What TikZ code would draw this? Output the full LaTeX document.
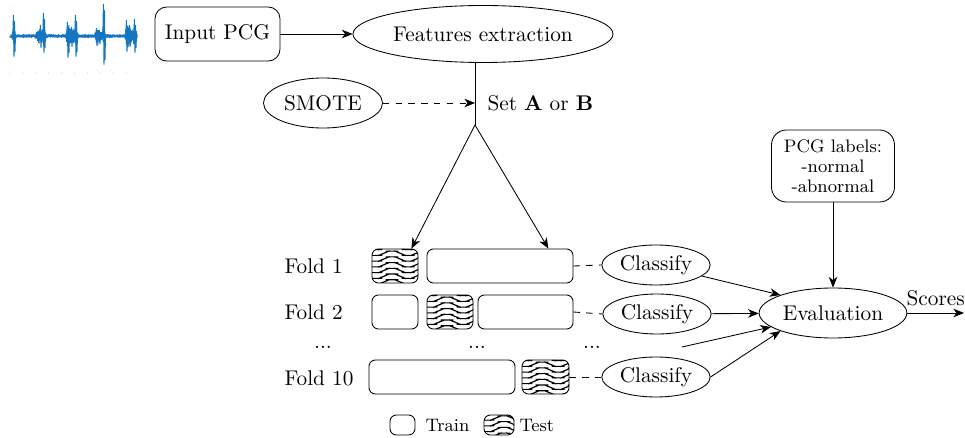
\documentclass[tikz,border=0pt]{standalone}
\usetikzlibrary{arrows.meta,shapes.geometric,fit,calc}
\definecolor{wavecol}{RGB}{20,118,192}
\def\pxu{0.47pt}
\begin{document}
\begin{tikzpicture}[x=0.47pt,y=-0.47pt,
  >={Stealth[length=5pt,width=4pt,inset=1.5pt]},
  every node/.style={font=\fontsize{10}{12}\selectfont},
  box/.style={draw, rounded corners=3pt, inner sep=0pt},
  ell/.style={draw, ellipse, inner sep=1pt},
  small/.style={font=\fontsize{8.5}{9.5}\selectfont},
  testpat/.style={path picture={
    \foreach \k in {-4,...,4}{
      \draw[line width=0.55pt] ([xshift=-2pt,yshift=\k*2.7pt+0.6pt]path picture bounding box.west)
        \foreach \i in {1,...,4}{ sin ++(3.8pt,-1.0pt) cos ++(3.8pt,1.0pt) sin ++(3.8pt,1.0pt) cos ++(3.8pt,-1.0pt) };
    }}}
]
\useasboundingbox (0,0) rectangle (965,438);

% waveform
\pgfmathsetseed{11}
\draw[wavecol, line width=0.45pt, line join=bevel] (10,36)
  \foreach \i in {1,...,600}{
    -- ({10+\i*0.212},
        {36 + ifthenelse(isodd(\i),1,-1)*(0.35+0.65*rnd)*(1.8
          + 10*max(0,1-abs(10+\i*0.212-14)/2.2)
          + 8*max(0,1-abs(10+\i*0.212-40)/5) + 9*max(0,1-abs(10+\i*0.212-44)/2.2)
          + 7*max(0,1-abs(10+\i*0.212-72)/7) + 9*max(0,1-abs(10+\i*0.212-68)/2.2) + 9*max(0,1-abs(10+\i*0.212-76)/2.2)
          + 6*max(0,1-abs(10+\i*0.212-99)/5) + 5*max(0,1-abs(10+\i*0.212-97)/2) + 10*max(0,1-abs(10+\i*0.212-104)/1.8)
          + 8*max(0,1-abs(10+\i*0.212-130)/6) + 9*max(0,1-abs(10+\i*0.212-127)/2.2) + 9*max(0,1-abs(10+\i*0.212-135)/2.2))})
  };
\foreach \sx/\st/\sb in {14/15/57, 44/13/53, 41/25/48, 68/22/58, 72/27/47, 76/15/57,
  97/28/46, 100/30/44, 104/4/65, 127/20/52, 130/25/47, 135/19/53}{
  \draw[wavecol, line width=0.45pt, line join=bevel] (\sx-1.2,36) -- (\sx-0.6,\st) -- (\sx,\sb) -- (\sx+0.5,{\st+6}) -- (\sx+1,{\sb-5}) -- (\sx+1.5,36);
}
\foreach \k in {0,...,9}{ \fill[black!15] (10+12.9*\k,73) circle (0.35pt); }
\foreach \k in {0,...,6}{ \fill[black!12] (10,7+9.5*\k) circle (0.3pt); }

% top
\node[draw, rounded corners=5.5pt, minimum width=125*\pxu, minimum height=54*\pxu] (in) at (217.5,34) {Input PCG};
\node[ell, minimum width=221*\pxu, minimum height=57*\pxu] (fe) at (483,34) {Features extraction};
\node[ell, minimum width=119*\pxu, minimum height=50*\pxu] (sm) at (323,103) {SMOTE};
\coordinate (join) at (475,103);
\coordinate (split) at (475,125);
\node[anchor=west] (set) at (480,103) {Set \textbf{A} or \textbf{B}};

\draw[->] (in.east) -- (fe.west |- in.east);
\draw (split |- fe.south) -- (split);
\draw[->, dashed] (sm) -- (join);

% folds
\node[box, testpat, fit={(372,249)(418,283)}] (f1test) {};
\node[box, fit={(427,249)(573,283)}] (f1train) {};
\node[box, fit={(372,295)(418,329)}] (f2traina) {};
\node[box, testpat, fit={(427,295)(473,329)}] (f2test) {};
\node[box, fit={(478,295)(573,329)}] (f2trainb) {};
\node[box, fit={(369,360)(515,394)}] (f10train) {};
\node[box, testpat, fit={(522,360)(569,394)}] (f10test) {};

\draw[->] (split) -- ([xshift=-7*\pxu]f1test.north east);
\draw[->] (split) -- ([xshift=-25*\pxu]f1train.north east);

\node[anchor=west] (l1) at (277,266) {Fold 1};
\node[anchor=west] (l2) at (277,312) {Fold 2};
\node[anchor=west] (l10) at (277,378) {Fold 10};
\node (d1) at (323,347) {...};
\node (d2) at (477,347) {...};
\node (d3) at (592,347) {...};

% classify
\node[ell, minimum width=97*\pxu, minimum height=40*\pxu] (c1) at (656,265) {Classify};
\node[ell, minimum width=97*\pxu, minimum height=40*\pxu] (c2) at (657,314) {Classify};
\node[ell, minimum width=97*\pxu, minimum height=40*\pxu] (c3) at (656,377) {Classify};
\draw[dashed] (f1train.east) -- (c1.west);
\draw[dashed] (f2trainb.east) -- (c2.west);
\draw[dashed] (f10test.east) -- (c3.west);

% evaluation
\node[ell, minimum width=135*\pxu, minimum height=50*\pxu] (ev) at (833,313) {Evaluation};
\node[draw, rounded corners=7pt, minimum width=123*\pxu, minimum height=72*\pxu, align=center, small] (lab) at (833,166) {PCG labels:\\-normal\\-abnormal};
\coordinate (loose) at (682,347);
\coordinate (out) at (964,313);
\draw[->] (lab) -- (ev);
\draw[->] (c1) -- (ev.north west);
\draw[->] (c2) -- (ev);
\draw[->] (loose) -- (ev);
\draw[->] (c3.east) -- (ev.south west);
\draw[->] (ev.east) -- node[above] (sc) {Scores} (out);

% legend
\node[box, fit={(390,415)(415,435)}] (ltrain) {};
\node[anchor=west, small] (ttrain) at (418,425) {Train};
\node[box, testpat, fit={(484,415)(514,435)}] (ltest) {};
\node[anchor=west, small] (ttest) at (512,425) {Test};
\end{tikzpicture}
\end{document}
